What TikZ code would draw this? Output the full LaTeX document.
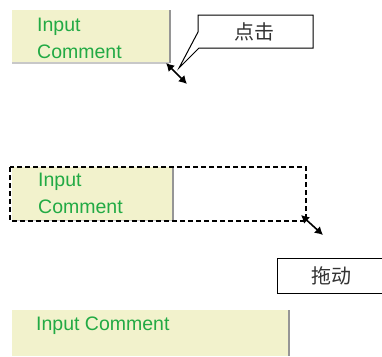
\documentclass[tikz,border=0pt]{standalone}
\usepackage{fontspec}
\setmainfont{Liberation Sans}
\newfontfamily\cjkfont{Noto Sans CJK SC}
\usetikzlibrary{arrows.meta}
\definecolor{cream}{RGB}{242,242,204}
\definecolor{txtgreen}{RGB}{34,170,68}
\definecolor{edgegray}{RGB}{150,150,150}
\definecolor{edgelight}{RGB}{200,200,200}
\tikzset{
  field/.style={fill=cream, draw=none},
  lbl/.style={anchor=base west, inner sep=0pt, text=txtgreen, font=\fontsize{19.5}{22}\selectfont},
  cjk/.style={inner sep=0pt, text=black!80, font=\cjkfont\fontsize{20}{22}\selectfont},
  resize/.style={{Latex[length=8pt,width=9pt]}-{Latex[length=8pt,width=9pt]}, line width=1.6pt, black},
  callbox/.style={draw=black, line width=1pt, fill=white},
  dashbox/.style={draw=black, line width=1.5pt, dash pattern=on 5pt off 3pt}
}
\begin{document}
\begin{tikzpicture}[x=1pt,y=-1pt]
\useasboundingbox (0,0) rectangle (382,356);
% ---- top field
\fill[field] (12,10) rectangle (170,63);
\draw[edgelight, line width=1.5pt] (12,63) -- (169,63);
\draw[edgegray, line width=1.2pt] (170,10) -- (170,63);
\node[lbl] (t1) at (37,31) {Input};
\node[lbl] (t2) at (37,58) {Comment};
\coordinate (a1s) at (166,63);
\coordinate (a1e) at (187,84);
\draw[resize] (a1s) -- (a1e);
% callout
\draw[callbox] (198,15) -- (313,15) -- (313,48) -- (199,48) -- (179,68) -- (198,32) -- cycle;
\node[cjk] (c1) at (254,32) {点击};
% ---- middle
\fill[field] (12,167) rectangle (173,220);
\draw[edgelight, line width=1.5pt] (12,220.5) -- (172,220.5);
\draw[edgegray, line width=1.2pt] (173,167) -- (173,220);
\draw[dashbox] (10,167) rectangle (306,221);
\node[lbl] (m1) at (38,186) {Input};
\node[lbl] (m2) at (38,213) {Comment};
\coordinate (a2s) at (301,215);
\coordinate (a2e) at (323,235);
\draw[resize] (a2s) -- (a2e);
\node[callbox, minimum width=106pt, minimum height=35pt, inner sep=0pt, anchor=north west] (c2box) at (277,258) {};
\node[cjk] (c2) at (331,276) {拖动};
% ---- bottom
\fill[field] (12,310) rectangle (289,356);
\draw[edgegray, line width=1.2pt] (289,310) -- (289,356);
\node[lbl] (b1) at (36,330) {Input Comment};
\end{tikzpicture}
\end{document}
